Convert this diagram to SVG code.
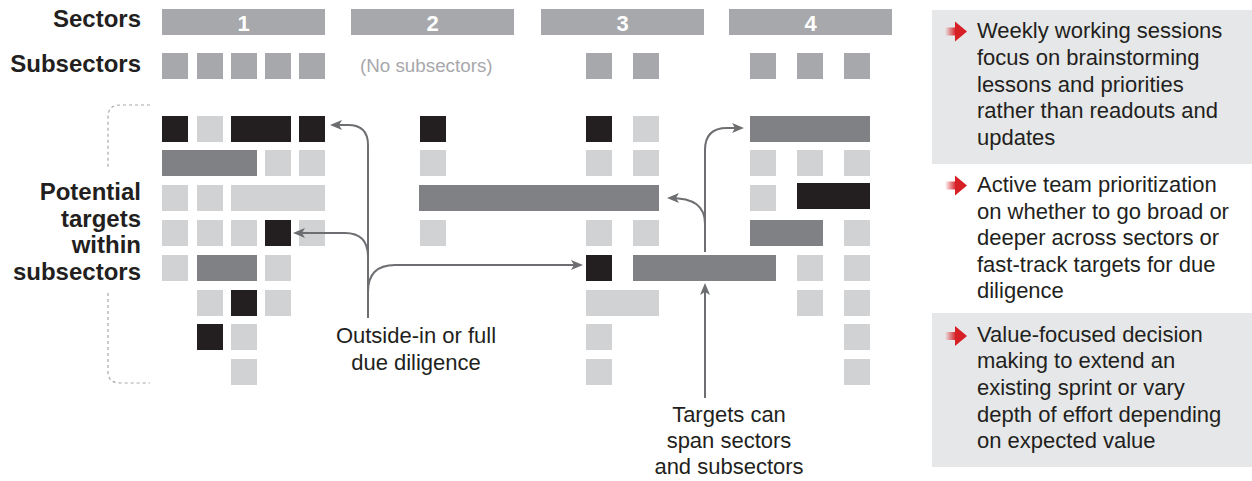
<svg xmlns="http://www.w3.org/2000/svg" width="1252" height="481" viewBox="0 0 1252 481">
<defs>
<style>
.sec{fill:#a7a8ab}
.blk{fill:#231f20}
.lt{fill:#d1d2d4}
.dk{fill:#808184}
.lbl{font-family:"Liberation Sans",Arial,sans-serif;font-weight:bold;font-size:24px;fill:#231f20;text-anchor:end}
.num{font-family:"Liberation Sans",Arial,sans-serif;font-weight:bold;font-size:22px;fill:#ffffff;text-anchor:middle}
.txt{font-family:"Liberation Sans",Arial,sans-serif;font-size:22px;fill:#231f20}
.ctr{text-anchor:middle}
.con{fill:none;stroke:#6d6e71;stroke-width:2}
.arr{marker-end:url(#ah)}
.box{fill:#e6e7e8}
.red{fill:#d71f26}
</style>
<marker id="ah" markerUnits="userSpaceOnUse" markerWidth="14" markerHeight="12" refX="9" refY="5" orient="auto">
<path d="M0,0 L12,5 L0,10 L3,5 Z" fill="#6d6e71"/>
</marker>
<linearGradient id="tail" x1="0" y1="0" x2="1" y2="0">
<stop offset="0" stop-color="#d71f26" stop-opacity="0"/>
<stop offset="1" stop-color="#d71f26" stop-opacity="1"/>
</linearGradient>
<symbol id="redarrow" overflow="visible">
<rect x="0" y="-4" width="11" height="8" fill="url(#tail)"/>
<polygon points="10,-10 22,0 10,10" class="red"/>
</symbol>
</defs>

<g id="row-labels">
<text class="lbl" x="141" y="27">Sectors</text>
<text class="lbl" x="141" y="72">Subsectors</text>
<text class="lbl" x="141" y="200">Potential</text>
<text class="lbl" x="141" y="227">targets</text>
<text class="lbl" x="141" y="253">within</text>
<text class="lbl" x="141" y="280">subsectors</text>
<path d="M150,105 H120 Q108,105 108,117 V168 M108,293 V371 Q108,383 120,383 H150" fill="none" stroke="#a7a8ab" stroke-width="1.2" stroke-dasharray="3,3"/>
</g>

<g id="sectors">
<rect class="sec" x="162" y="9" width="163" height="26"/>
<text class="num" x="243.5" y="31">1</text>
<rect class="sec" x="351" y="9" width="163" height="26"/>
<text class="num" x="432.5" y="31">2</text>
<rect class="sec" x="541" y="9" width="163" height="26"/>
<text class="num" x="622.5" y="31">3</text>
<rect class="sec" x="729" y="9" width="163" height="26"/>
<text class="num" x="810.5" y="31">4</text>
</g>

<g id="subsectors">
<rect class="sec" x="162" y="53" width="26" height="26"/>
<rect class="sec" x="197" y="53" width="26" height="26"/>
<rect class="sec" x="231" y="53" width="26" height="26"/>
<rect class="sec" x="265" y="53" width="26" height="26"/>
<rect class="sec" x="299" y="53" width="26" height="26"/>
<text class="txt" x="360" y="72" style="font-size:18.8px;fill:#a7a8ab">(No subsectors)</text>
<rect class="sec" x="586" y="53" width="26" height="26"/>
<rect class="sec" x="633" y="53" width="26" height="26"/>
<rect class="sec" x="750" y="53" width="26" height="26"/>
<rect class="sec" x="797" y="53" width="26" height="26"/>
<rect class="sec" x="844" y="53" width="26" height="26"/>
</g>

<g id="targets-sector1">
<rect class="blk" x="162" y="116" width="26" height="26"/>
<rect class="lt" x="197" y="116" width="26" height="26"/>
<rect class="blk" x="231" y="116" width="60" height="26"/>
<rect class="blk" x="299" y="116" width="26" height="26"/>
<rect class="dk" x="162" y="150" width="95" height="26"/>
<rect class="lt" x="265" y="150" width="26" height="26"/>
<rect class="lt" x="299" y="150" width="26" height="26"/>
<rect class="lt" x="162" y="185" width="26" height="26"/>
<rect class="lt" x="197" y="185" width="26" height="26"/>
<rect class="lt" x="231" y="185" width="94" height="26"/>
<rect class="lt" x="162" y="220" width="26" height="26"/>
<rect class="lt" x="197" y="220" width="26" height="26"/>
<rect class="lt" x="231" y="220" width="26" height="26"/>
<rect class="blk" x="265" y="220" width="26" height="26"/>
<rect class="lt" x="299" y="220" width="26" height="26"/>
<rect class="lt" x="162" y="255" width="26" height="26"/>
<rect class="dk" x="197" y="255" width="60" height="26"/>
<rect class="lt" x="265" y="255" width="26" height="26"/>
<rect class="lt" x="197" y="290" width="26" height="26"/>
<rect class="blk" x="231" y="290" width="26" height="26"/>
<rect class="lt" x="265" y="290" width="26" height="26"/>
<rect class="blk" x="197" y="324" width="26" height="26"/>
<rect class="lt" x="231" y="324" width="26" height="26"/>
<rect class="lt" x="231" y="359" width="26" height="26"/>
</g>

<g id="targets-sector2">
<rect class="blk" x="420" y="116" width="26" height="26"/>
<rect class="lt" x="420" y="150" width="26" height="26"/>
<rect class="dk" x="419" y="185" width="240" height="26"/>
<rect class="lt" x="420" y="220" width="26" height="26"/>
</g>

<g id="targets-sector3">
<rect class="blk" x="586" y="116" width="26" height="26"/>
<rect class="lt" x="633" y="116" width="26" height="26"/>
<rect class="lt" x="586" y="150" width="26" height="26"/>
<rect class="lt" x="633" y="150" width="26" height="26"/>
<rect class="lt" x="586" y="220" width="26" height="26"/>
<rect class="lt" x="633" y="220" width="26" height="26"/>
<rect class="blk" x="586" y="255" width="26" height="26"/>
<rect class="dk" x="633" y="255" width="143" height="26"/>
<rect class="lt" x="586" y="290" width="73" height="26"/>
<rect class="lt" x="586" y="324" width="26" height="26"/>
<rect class="lt" x="586" y="359" width="26" height="26"/>
</g>

<g id="targets-sector4">
<rect class="dk" x="750" y="116" width="120" height="26"/>
<rect class="lt" x="750" y="150" width="26" height="26"/>
<rect class="lt" x="797" y="150" width="26" height="26"/>
<rect class="lt" x="844" y="150" width="26" height="26"/>
<rect class="lt" x="750" y="185" width="26" height="26"/>
<rect class="blk" x="797" y="183" width="73" height="26"/>
<rect class="dk" x="750" y="220" width="73" height="26"/>
<rect class="lt" x="844" y="220" width="26" height="26"/>
<rect class="lt" x="797" y="255" width="26" height="26"/>
<rect class="lt" x="844" y="255" width="26" height="26"/>
<rect class="lt" x="797" y="290" width="26" height="26"/>
<rect class="lt" x="844" y="290" width="26" height="26"/>
<rect class="lt" x="844" y="324" width="26" height="26"/>
<rect class="lt" x="844" y="359" width="26" height="26"/>
</g>

<g id="connectors">
<path class="con arr" d="M368,318 V145 Q368,125 348,125 H333"/>
<path class="con arr" d="M368,257 Q368,233 345,233 H296"/>
<path class="con arr" d="M368,292 Q368,265 395,265 H580"/>
<path class="con arr" d="M705,252 V150 Q705,128 727,128 H741"/>
<path class="con arr" d="M705,224 C705,206 694,198 670,198"/>
<path class="con arr" d="M705,398 V286"/>
</g>

<g id="label-outside-in">
<text class="txt ctr" x="416" y="343">Outside-in or full</text>
<text class="txt ctr" x="416" y="370">due diligence</text>
</g>

<g id="label-targets-span">
<text class="txt ctr" x="729" y="422">Targets can</text>
<text class="txt ctr" x="729" y="448">span sectors</text>
<text class="txt ctr" x="729" y="474">and subsectors</text>
</g>

<g id="item1">
<rect class="box" x="932" y="10" width="320" height="154"/>
<use href="#redarrow" x="945" y="31.5"/>
<text class="txt" x="977" y="38">Weekly working sessions</text>
<text class="txt" x="977" y="65">focus on brainstorming</text>
<text class="txt" x="977" y="91.5">lessons and priorities</text>
<text class="txt" x="977" y="118">rather than readouts and</text>
<text class="txt" x="977" y="145">updates</text>
</g>

<g id="item2">
<use href="#redarrow" x="945" y="185.5"/>
<text class="txt" x="977" y="192">Active team prioritization</text>
<text class="txt" x="977" y="218.5">on whether to go broad or</text>
<text class="txt" x="977" y="245">deeper across sectors or</text>
<text class="txt" x="977" y="272">fast-track targets for due</text>
<text class="txt" x="977" y="298">diligence</text>
</g>

<g id="item3">
<rect class="box" x="932" y="313" width="320" height="154"/>
<use href="#redarrow" x="945" y="336"/>
<text class="txt" x="977" y="342">Value-focused decision</text>
<text class="txt" x="977" y="368">making to extend an</text>
<text class="txt" x="977" y="395">existing sprint or vary</text>
<text class="txt" x="977" y="421.5">depth of effort depending</text>
<text class="txt" x="977" y="448">on expected value</text>
</g>
</svg>
